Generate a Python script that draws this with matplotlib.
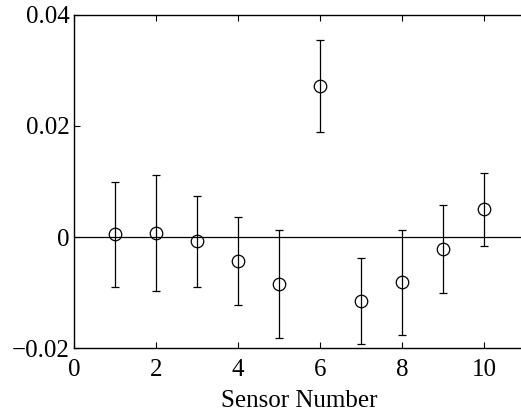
import numpy as np
import matplotlib
matplotlib.use("Agg")
import matplotlib.pyplot as plt

plt.rcParams['font.family'] = ['Liberation Serif', 'DejaVu Serif']

# sensor estimates with upper/lower error bar ends
sensors = np.arange(1, 11)
values = [0.0005, 0.0007, -0.0007, -0.0043, -0.0085, 0.0272, -0.0115, -0.0081, -0.0022, 0.0050]
upper = [0.0099, 0.0112, 0.0074, 0.0036, 0.0013, 0.0355, -0.0038, 0.0013, 0.0058, 0.0115]
lower = [-0.0090, -0.0097, -0.0090, -0.0122, -0.0182, 0.0189, -0.0193, -0.0177, -0.0101, -0.0016]

xticks = [0, 2, 4, 6, 8, 10]
yticks = [-0.02, 0, 0.02, 0.04]
ytick_labels = ['\u22120.02', '0', '0.02', '0.04']

vals = np.array(values)
yerr = np.vstack([vals - np.array(lower), np.array(upper) - vals])

fig = plt.figure(figsize=(5.21, 4.13), dpi=100)
# right edge of the axes sits just past the picture, as in the scan
ax = fig.add_axes([0.142, 0.157, 0.866, 0.807])

ax.axhline(0, color='black', lw=0.9)
ax.errorbar(sensors, vals, yerr=yerr, fmt='o', mfc='none', mec='black',
            ecolor='black', color='black', ms=9, mew=0.9, elinewidth=0.9,
            capsize=3, capthick=0.9)

ax.set_xlim(0, 11)
ax.set_ylim(-0.02, 0.04)
ax.set_xticks(xticks)
ax.set_yticks(yticks)
ax.set_yticklabels(ytick_labels)
ax.tick_params(direction='in', length=4, width=0.8, labelsize=18, top=True)
ax.tick_params(axis='x', pad=8)
ax.tick_params(axis='y', pad=3)
ax.set_xlabel('Sensor Number', fontsize=18, labelpad=6)
for s in ax.spines.values():
    s.set_linewidth(1.0)
ax.spines['right'].set_visible(False)

fig.savefig('out.png', dpi=100)
